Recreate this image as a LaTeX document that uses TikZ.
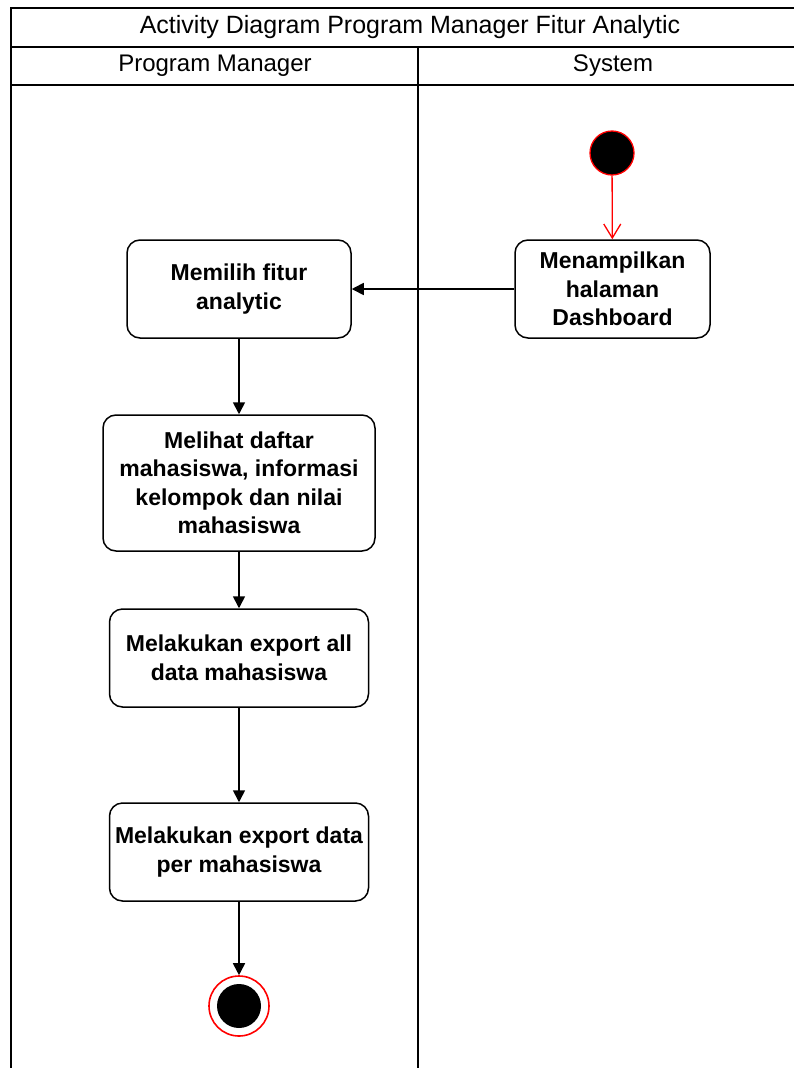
\documentclass[tikz,border=0pt]{standalone}
\usepackage{fontspec}
\setmainfont{Liberation Sans}
\usetikzlibrary{arrows.meta}
\begin{document}
\begin{tikzpicture}[x=1pt,y=-1pt,
  lane/.style={line width=1.8pt},
  lanetext/.style={font=\fontsize{24}{28}\selectfont},
  act/.style={draw, line width=1.5pt, rounded corners=13pt, align=center,
    font=\fontsize{23}{28.5}\selectfont\bfseries, inner sep=0pt},
  flow/.style={line width=1.7pt, -{Triangle[length=12pt,width=12pt]}},
  startflow/.style={red, line width=1.3pt, -{Straight Barb[length=14pt,width=17pt,line width=1.3pt]}}
]
\useasboundingbox (0,0) rectangle (794,1068);
\fill[white] (0,0) rectangle (794,1068);

% swimlane frame
\draw[lane] (796,8) -- (11,8) -- (11,1070);
\draw[lane] (11,47) -- (796,47);
\draw[lane] (11,85) -- (796,85);
\draw[lane] (418,47) -- (418,1070);

\node[lanetext, font=\fontsize{25}{28}\selectfont] (title) at (410,27) {Activity Diagram Program Manager Fitur Analytic};
\node[lanetext] (pm) at (215,66) {Program Manager};
\node[lanetext] (sys) at (613,66) {System};

% activities
\node[act, minimum width=224pt, minimum height=98pt] (a1) at (239,289) {Memilih fitur\\analytic};
\node[act, minimum width=195pt, minimum height=98pt] (s1) at (612.5,289) {Menampilkan\\halaman\\Dashboard};
\node[act, minimum width=272pt, minimum height=136pt] (a2) at (239,483) {Melihat daftar\\mahasiswa, informasi\\kelompok dan nilai\\mahasiswa};
\node[act, minimum width=259pt, minimum height=98pt] (a3) at (239,658) {Melakukan export all\\data mahasiswa};
\node[act, minimum width=259pt, minimum height=98pt] (a4) at (239,852) {Melakukan export data\\per mahasiswa};

% start and end
\node[circle, fill=black, draw=red, line width=1.3pt, minimum size=44pt, inner sep=0pt] (start) at (612,153) {};
\node[circle, draw=red, fill=white, line width=1.6pt, minimum size=60pt, inner sep=0pt] (endo) at (239,1006) {};
\node[circle, fill=black, minimum size=44pt, inner sep=0pt] (endi) at (239,1006) {};

% transitions
\draw[startflow] (start) -- (s1);
\draw[flow] (s1) -- (a1);
\draw[flow] (a1) -- (a2);
\draw[flow] (a2) -- (a3);
\draw[flow] (a3) -- (a4);
\draw[flow] (a4) -- (endo);
\end{tikzpicture}
\end{document}
